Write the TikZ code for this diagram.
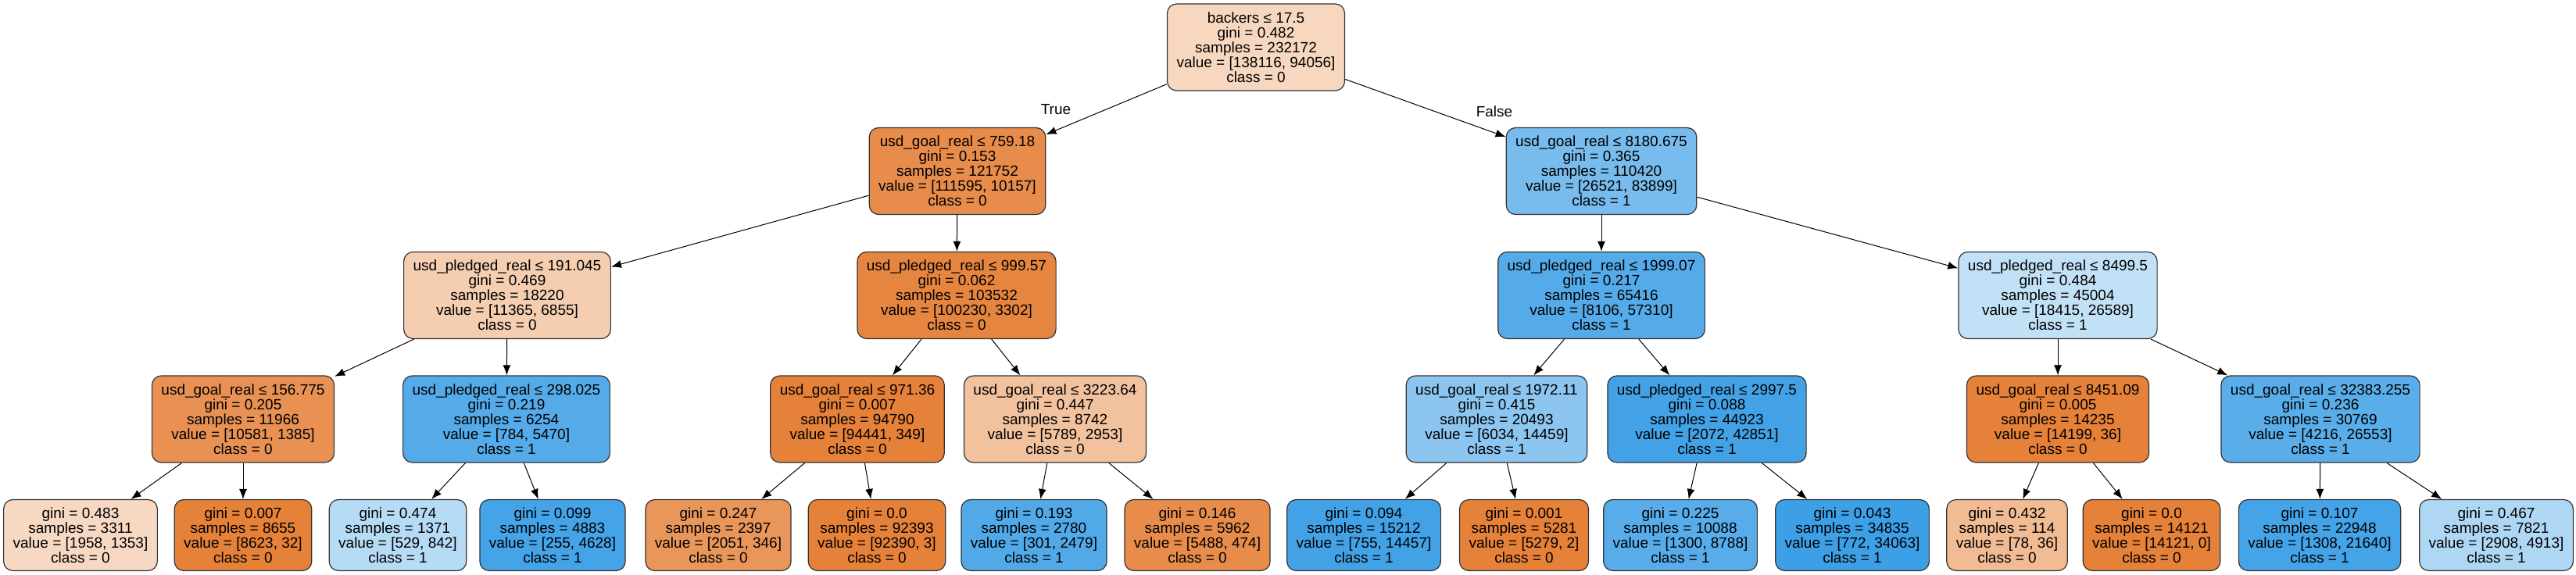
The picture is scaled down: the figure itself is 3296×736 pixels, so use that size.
\documentclass[tikz,border=0pt]{standalone}
\usepackage{fontspec}
\setmainfont{Liberation Sans}
\usepackage{xcolor}
\usetikzlibrary{arrows.meta,positioning,shapes}

\definecolor{cls0}{RGB}{229,129,57}
\definecolor{cls1}{RGB}{57,157,229}

\begin{document}
\begin{tikzpicture}[x=1pt, y=1pt, font=\fontsize{19}{19}\selectfont]
	\tikzstyle{split}
	  =[draw=black!80, line width=1.2pt, rectangle, rounded corners=12pt,
	  align=center, inner xsep=12pt, minimum height=111pt]
	\tikzstyle{leafbox}
	  =[split, minimum height=91pt]
	\tikzstyle{arc}
	  =[-{Latex[length=13pt,width=10pt]}, line width=1pt]

	\useasboundingbox (0,0) rectangle (3296,-736);

	% depth 0
	\node[split, fill=cls0!32] (n0)
	  at (1607,-60.5) {backers ≤ 17.5\\gini = 0.482\\samples = 232172\\value = [138116, 94056]\\class = 0};

	% depth 1
	\node[split, fill=cls0!91] (n1)
	  at (1225,-219) {usd\_goal\_real ≤ 759.18\\gini = 0.153\\samples = 121752\\value = [111595, 10157]\\class = 0};
	\node[split, fill=cls1!68] (n2)
	  at (2049,-219) {usd\_goal\_real ≤ 8180.675\\gini = 0.365\\samples = 110420\\value = [26521, 83899]\\class = 1};

	% depth 2
	\node[split, fill=cls0!40] (n3)
	  at (649,-378) {usd\_pledged\_real ≤ 191.045\\gini = 0.469\\samples = 18220\\value = [11365, 6855]\\class = 0};
	\node[split, fill=cls0!97] (n4)
	  at (1224,-378) {usd\_pledged\_real ≤ 999.57\\gini = 0.062\\samples = 103532\\value = [100230, 3302]\\class = 0};
	\node[split, fill=cls1!86] (n5)
	  at (2049,-378) {usd\_pledged\_real ≤ 1999.07\\gini = 0.217\\samples = 65416\\value = [8106, 57310]\\class = 1};
	\node[split, fill=cls1!31] (n6)
	  at (2633,-378) {usd\_pledged\_real ≤ 8499.5\\gini = 0.484\\samples = 45004\\value = [18415, 26589]\\class = 1};

	% depth 3
	\node[split, fill=cls0!87] (n7)
	  at (311,-536.5) {usd\_goal\_real ≤ 156.775\\gini = 0.205\\samples = 11966\\value = [10581, 1385]\\class = 0};
	\node[split, fill=cls1!86] (n8)
	  at (648,-536.5) {usd\_pledged\_real ≤ 298.025\\gini = 0.219\\samples = 6254\\value = [784, 5470]\\class = 1};
	\node[split, fill=cls0!100] (n9)
	  at (1097,-536.5) {usd\_goal\_real ≤ 971.36\\gini = 0.007\\samples = 94790\\value = [94441, 349]\\class = 0};
	\node[split, fill=cls0!49] (n10)
	  at (1350,-536.5) {usd\_goal\_real ≤ 3223.64\\gini = 0.447\\samples = 8742\\value = [5789, 2953]\\class = 0};
	\node[split, fill=cls1!58] (n11)
	  at (1915,-536.5) {usd\_goal\_real ≤ 1972.11\\gini = 0.415\\samples = 20493\\value = [6034, 14459]\\class = 1};
	\node[split, fill=cls1!95] (n12)
	  at (2184,-536.5) {usd\_pledged\_real ≤ 2997.5\\gini = 0.088\\samples = 44923\\value = [2072, 42851]\\class = 1};
	\node[split, fill=cls0!100] (n13)
	  at (2633,-536.5) {usd\_goal\_real ≤ 8451.09\\gini = 0.005\\samples = 14235\\value = [14199, 36]\\class = 0};
	\node[split, fill=cls1!84] (n14)
	  at (2969,-536.5) {usd\_goal\_real ≤ 32383.255\\gini = 0.236\\samples = 30769\\value = [4216, 26553]\\class = 1};

	% leaves
	\node[leafbox, fill=cls0!31] (n15)
	  at (103,-685) {gini = 0.483\\samples = 3311\\value = [1958, 1353]\\class = 0};
	\node[leafbox, fill=cls0!100] (n16)
	  at (311,-685) {gini = 0.007\\samples = 8655\\value = [8623, 32]\\class = 0};
	\node[leafbox, fill=cls1!37] (n17)
	  at (509,-685) {gini = 0.474\\samples = 1371\\value = [529, 842]\\class = 1};
	\node[leafbox, fill=cls1!94] (n18)
	  at (707,-685) {gini = 0.099\\samples = 4883\\value = [255, 4628]\\class = 1};
	\node[leafbox, fill=cls0!83] (n19)
	  at (919,-685) {gini = 0.247\\samples = 2397\\value = [2051, 346]\\class = 0};
	\node[leafbox, fill=cls0!100] (n20)
	  at (1122,-685) {gini = 0.0\\samples = 92393\\value = [92390, 3]\\class = 0};
	\node[leafbox, fill=cls1!88] (n21)
	  at (1323,-685) {gini = 0.193\\samples = 2780\\value = [301, 2479]\\class = 1};
	\node[leafbox, fill=cls0!91] (n22)
	  at (1532,-685) {gini = 0.146\\samples = 5962\\value = [5488, 474]\\class = 0};
	\node[leafbox, fill=cls1!95] (n23)
	  at (1745,-685) {gini = 0.094\\samples = 15212\\value = [755, 14457]\\class = 1};
	\node[leafbox, fill=cls0!100] (n24)
	  at (1950,-685) {gini = 0.001\\samples = 5281\\value = [5279, 2]\\class = 0};
	\node[leafbox, fill=cls1!85] (n25)
	  at (2150,-685) {gini = 0.225\\samples = 10088\\value = [1300, 8788]\\class = 1};
	\node[leafbox, fill=cls1!98] (n26)
	  at (2370,-685) {gini = 0.043\\samples = 34835\\value = [772, 34063]\\class = 1};
	\node[leafbox, fill=cls0!54] (n27)
	  at (2568,-685) {gini = 0.432\\samples = 114\\value = [78, 36]\\class = 0};
	\node[leafbox, fill=cls0!100] (n28)
	  at (2753,-685) {gini = 0.0\\samples = 14121\\value = [14121, 0]\\class = 0};
	\node[leafbox, fill=cls1!94] (n29)
	  at (2968,-685) {gini = 0.107\\samples = 22948\\value = [1308, 21640]\\class = 1};
	\node[leafbox, fill=cls1!41] (n30)
	  at (3194,-685) {gini = 0.467\\samples = 7821\\value = [2908, 4913]\\class = 1};

	\node[] (T)
	  at (1351,-140) {True};
	\node[] (F)
	  at (1912,-143) {False};

	\draw[arc] (n0)--(n1);
	\draw[arc] (n0)--(n2);
	\draw[arc] (n1)--(n3);
	\draw[arc] (n1)--(n4);
	\draw[arc] (n2)--(n5);
	\draw[arc] (n2)--(n6);
	\draw[arc] (n3)--(n7);
	\draw[arc] (n3)--(n8);
	\draw[arc] (n4)--(n9);
	\draw[arc] (n4)--(n10);
	\draw[arc] (n5)--(n11);
	\draw[arc] (n5)--(n12);
	\draw[arc] (n6)--(n13);
	\draw[arc] (n6)--(n14);
	\draw[arc] (n7)--(n15);
	\draw[arc] (n7)--(n16);
	\draw[arc] (n8)--(n17);
	\draw[arc] (n8)--(n18);
	\draw[arc] (n9)--(n19);
	\draw[arc] (n9)--(n20);
	\draw[arc] (n10)--(n21);
	\draw[arc] (n10)--(n22);
	\draw[arc] (n11)--(n23);
	\draw[arc] (n11)--(n24);
	\draw[arc] (n12)--(n25);
	\draw[arc] (n12)--(n26);
	\draw[arc] (n13)--(n27);
	\draw[arc] (n13)--(n28);
	\draw[arc] (n14)--(n29);
	\draw[arc] (n14)--(n30);
\end{tikzpicture}
\end{document}
